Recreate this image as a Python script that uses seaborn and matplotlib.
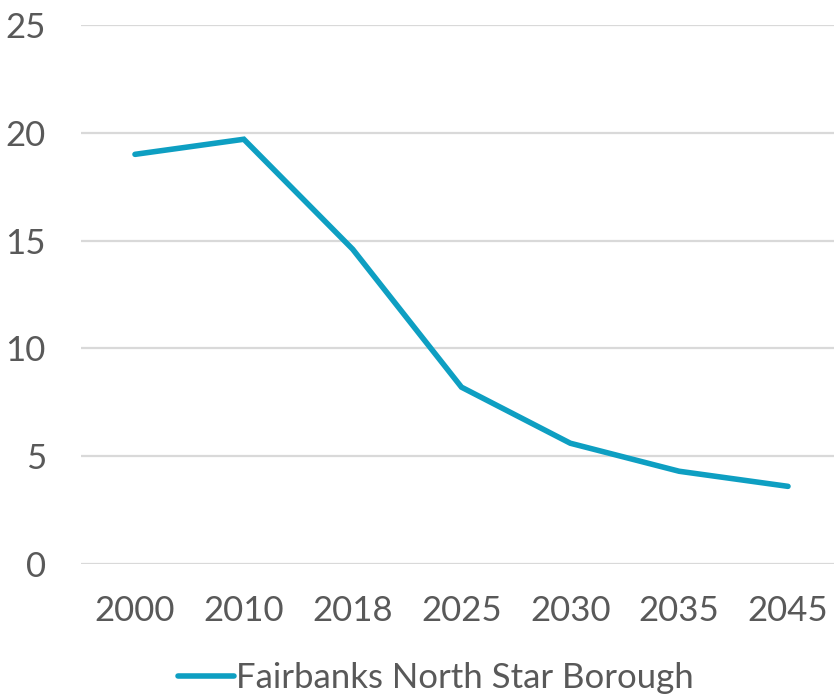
import pandas as pd
import seaborn as sns
import matplotlib.pyplot as plt

# Chart data
years = ['2000', '2010', '2018', '2025', '2030', '2035', '2045']
values = [19.0, 19.7, 14.6, 8.2, 5.6, 4.3, 3.6]
series_name = 'Fairbanks North Star Borough'

df = pd.DataFrame({'Year': years, 'Value': values, 'Series': series_name})

sns.set_style('white')
plt.rcParams['font.family'] = ['Lato', 'DejaVu Sans']

fig = plt.figure(figsize=(8.34, 6.96), dpi=100)
ax = fig.add_axes([0.0966, 0.1897, 0.9135, 0.7744])

sns.lineplot(data=df, x='Year', y='Value', hue='Series', sort=False,
             palette=['#0E9FC2'], linewidth=4.0, ax=ax, legend=False,
             solid_capstyle='round', solid_joinstyle='miter')

ax.set_xlim(-0.5, len(years) - 0.5)
ax.set_ylim(0, 25)
ax.set_yticks([0, 5, 10, 15, 20, 25])
ax.grid(axis='y', color='#D9D9D9', linewidth=1.6)
ax.set_axisbelow(True)
for s in ax.spines.values():
    s.set_visible(False)

ax.tick_params(axis='y', labelsize=25, labelcolor='#595959', length=0, pad=25)
ax.tick_params(axis='x', labelsize=25, labelcolor='#595959', length=0, pad=22)
ax.set_xlabel('')
ax.set_ylabel('')

# Legend at the bottom
handle = plt.Line2D([], [], color='#0E9FC2', linewidth=4.0)
fig.legend([handle], [series_name], loc='center', bbox_to_anchor=(436 / 834, 1 - 678 / 696),
           frameon=False, fontsize=25, labelcolor='#595959', handlelength=1.6,
           handletextpad=0.05, borderaxespad=0)

fig.savefig('out.png', dpi=100)
